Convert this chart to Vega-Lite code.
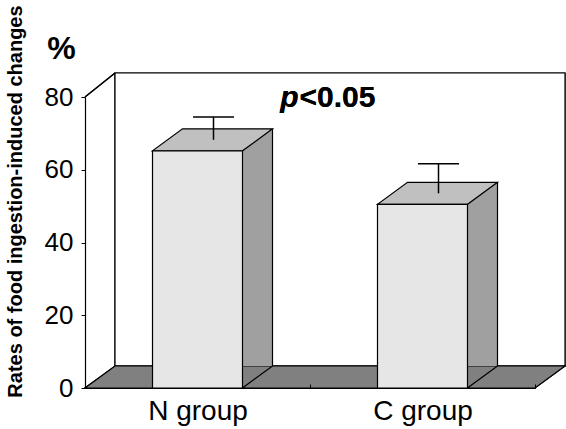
{
  "$schema": "https://vega.github.io/schema/vega-lite/v6.json",
  "width": 450,
  "height": 291,
  "autosize": {"type": "none"},
  "padding": {"left": 85, "top": 97, "right": 31, "bottom": 41},
  "background": "white",
  "config": {"view": {"stroke": null}, "font": "Liberation Sans"},
  "title": {
    "text": "Rates of food ingestion-induced changes",
    "orient": "left",
    "anchor": "middle",
    "fontSize": 20,
    "fontWeight": "bold",
    "color": "black",
    "offset": 18,
    "dx": 41
  },
  "data": {
    "values": [
      {"group": "N group", "value": 65.2, "upper": 71.5},
      {"group": "C group", "value": 50.5, "upper": 58.6}
    ]
  },
  "layer": [
    {
      "mark": {"type": "rect", "fill": "white", "stroke": "black", "strokeWidth": 1.2, "xOffset": 30, "x2Offset": 30, "yOffset": -24, "y2Offset": -22},
      "encoding": {
        "x": {"value": 0},
        "x2": {"value": "width"},
        "y": {"datum": 80, "type": "quantitative"},
        "y2": {"datum": 0}
      }
    },
    {
      "mark": {"type": "point", "shape": "M0,0 L450,0 L480,-22 L30,-22 Z", "size": 4, "filled": true, "fill": "#808080", "stroke": "black", "strokeWidth": 1.2, "opacity": 1},
      "encoding": {
        "x": {"value": 0},
        "y": {"datum": 0, "type": "quantitative"}
      }
    },
    {
      "mark": {"type": "point", "shape": "M0,0 L30,-24", "size": 4, "filled": false, "stroke": "black", "strokeWidth": 1.2, "opacity": 1},
      "encoding": {
        "x": {"value": 0},
        "y": {"datum": 80, "type": "quantitative"}
      }
    },
    {
      "mark": {"type": "bar", "width": 30, "xOffset": 60, "yOffset": -22, "fill": "#a0a0a0", "strokeWidth": 0},
      "encoding": {
        "x": {"field": "group", "type": "nominal"},
        "y": {"field": "value", "type": "quantitative"}
      }
    },
    {
      "mark": {"type": "point", "shape": "M75,0 L45,0 L75,-22", "size": 4, "filled": true, "fill": "#808080", "stroke": "black", "strokeWidth": 1.2, "opacity": 1},
      "encoding": {
        "x": {"field": "group", "type": "nominal"},
        "y": {"datum": 0, "type": "quantitative"}
      }
    },
    {
      "mark": {"type": "rule", "xOffset": 75, "yOffset": -22, "y2Offset": -22, "stroke": "black", "strokeWidth": 1.2},
      "encoding": {
        "x": {"field": "group", "type": "nominal"},
        "y": {"field": "value", "type": "quantitative"},
        "y2": {"datum": 0}
      }
    },
    {
      "mark": {"type": "point", "shape": "M-45,0 L45,0 L75,-22 L-15,-22 Z", "size": 4, "filled": true, "fill": "#c0c0c0", "stroke": "black", "strokeWidth": 1.2, "opacity": 1},
      "encoding": {
        "x": {"field": "group", "type": "nominal"},
        "y": {"field": "value", "type": "quantitative"}
      }
    },
    {
      "mark": {"type": "bar", "fill": "#e6e6e6", "stroke": "black", "strokeWidth": 1.2},
      "encoding": {
        "x": {
          "field": "group",
          "type": "nominal",
          "scale": {"domain": ["N group", "C group"], "paddingInner": 0.6, "paddingOuter": 0.3},
          "axis": {
            "title": null,
            "labelAngle": 0,
            "labelAlign": "center",
            "labelFontSize": 28,
            "labelColor": "black",
            "labelPadding": 27,
            "tickOffset": 112.5,
            "labelOffset": -112.5,
            "tickSize": -4,
            "tickColor": "black",
            "domainColor": "black",
            "domainWidth": 1.2,
            "zindex": 1
          }
        },
        "y": {
          "field": "value",
          "type": "quantitative",
          "scale": {"domain": [0, 80], "nice": false},
          "axis": {
            "values": [0, 20, 40, 60, 80],
            "title": "%",
            "titleAngle": 0,
            "titleX": -24,
            "titleY": -39,
            "titleAlign": "center",
            "titleBaseline": "alphabetic",
            "titleFontSize": 32,
            "titleFontWeight": "bold",
            "titleColor": "black",
            "labelFontSize": 26,
            "labelColor": "black",
            "labelPadding": 8,
            "tickSize": 4,
            "tickColor": "black",
            "domainColor": "black",
            "domainWidth": 1.2,
            "grid": false,
            "zindex": 1
          }
        }
      }
    },
    {
      "mark": {"type": "rule", "xOffset": 16, "yOffset": -11, "y2Offset": -11, "stroke": "black", "strokeWidth": 1.5},
      "encoding": {
        "x": {"field": "group", "type": "nominal"},
        "y": {"field": "value", "type": "quantitative"},
        "y2": {"field": "upper"}
      }
    },
    {
      "mark": {"type": "tick", "size": 41, "thickness": 1.5, "xOffset": 16, "yOffset": -11, "color": "black", "opacity": 1},
      "encoding": {
        "x": {"field": "group", "type": "nominal"},
        "y": {"field": "upper", "type": "quantitative"}
      }
    },
    {
      "mark": {"type": "text", "text": "p", "align": "right", "baseline": "alphabetic", "fontSize": 30, "fontWeight": "bold", "fontStyle": "italic", "color": "black", "xOffset": 101, "yOffset": 10},
      "encoding": {
        "x": {"datum": "N group", "type": "nominal"},
        "y": {"datum": 80, "type": "quantitative"}
      }
    },
    {
      "mark": {"type": "text", "text": "<0.05", "align": "left", "baseline": "alphabetic", "fontSize": 30, "fontWeight": "bold", "color": "black", "xOffset": 102, "yOffset": 10},
      "encoding": {
        "x": {"datum": "N group", "type": "nominal"},
        "y": {"datum": 80, "type": "quantitative"}
      }
    }
  ]
}
